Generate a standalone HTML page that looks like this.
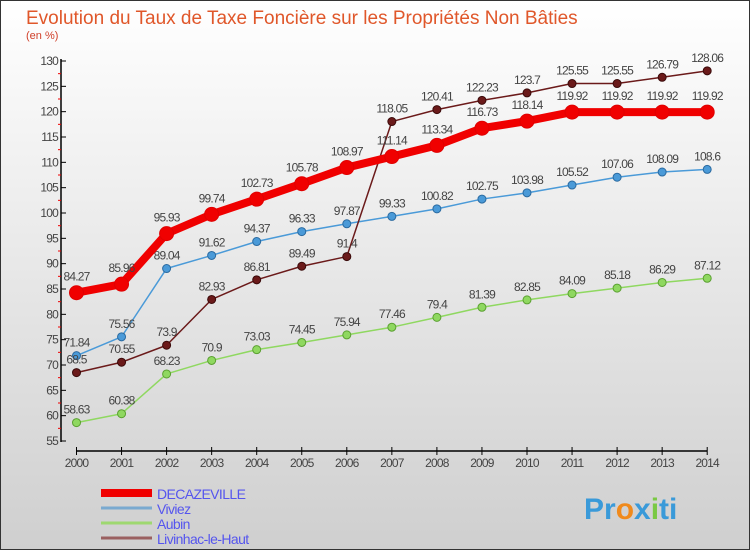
<!DOCTYPE html>
<html><head><meta charset="utf-8"><style>
body{margin:0}
#c{position:relative;width:748px;height:548px;border:1px solid #333;background:linear-gradient(#ffffff,#cfcfcf);overflow:hidden;font-family:"Liberation Sans",sans-serif}
</style></head><body>
<div id="c">
<svg id="s" width="748" height="548" style="position:absolute;left:0;top:0">
<text x="25" y="23" font-size="19" fill="#e0572a">Evolution du Taux de Taxe Foncière sur les Propriétés Non Bâties</text>
<text x="25" y="38" font-size="11" fill="#d0402a">(en %)</text>
<g id="g"></g>
<text x="583" y="518" font-size="30" font-weight="bold" fill="#3a9ad9">Pr<tspan fill="#f08a1c">o</tspan>x<tspan fill="#7ac943">i</tspan>ti</text>
</svg>
</div>
<script>
const years=[2000,2001,2002,2003,2004,2005,2006,2007,2008,2009,2010,2011,2012,2013,2014];
const deca=[84.27,85.96,95.93,99.74,102.73,105.78,108.97,111.14,113.34,116.73,118.14,119.92,119.92,119.92,119.92];
const viviez=[71.84,75.56,89.04,91.62,94.37,96.33,97.87,99.33,100.82,102.75,103.98,105.52,107.06,108.09,108.6];
const aubin=[58.63,60.38,68.23,70.9,73.03,74.45,75.94,77.46,79.4,81.39,82.85,84.09,85.18,86.29,87.12];
const livin=[68.5,70.55,73.9,82.93,86.81,89.49,91.4,118.05,120.41,122.23,123.7,125.55,125.55,126.79,128.06];
const yTicks=[55,60,65,70,75,80,85,90,95,100,105,110,115,120,125,130];
const NS="http://www.w3.org/2000/svg";
const g=document.getElementById('g');
const X=i=>75.5+i*45.05;
const Y=v=>440-(v-55)*380/75;
function mk(t,a,p){const e=document.createElementNS(NS,t);for(const k in a)e.setAttribute(k,a[k]);(p||g).appendChild(e);return e;}
// axes
let ya=mk('line',{x1:60,y1:58,x2:60,y2:441,stroke:'#000','stroke-width':1.5});


yTicks.forEach(v=>{
 mk('line',{x1:60,y1:Y(v),x2:65,y2:Y(v),stroke:'#000'});
 if(v<130)mk('line',{x1:57,y1:Y(v+2.5),x2:60,y2:Y(v+2.5),stroke:'#e00'});
 const t=mk('text',{x:57,y:Y(v)+4,'font-size':12,fill:'#444','text-anchor':'end','letter-spacing':'-0.8'});
 t.textContent=v;
 
 
});
let xa=mk('line',{x1:X(0),y1:450,x2:X(14),y2:450,stroke:'#000','stroke-width':1.5});


years.forEach((yr,i)=>{
 mk('line',{x1:X(i),y1:446,x2:X(i),y2:454,stroke:'#000'});
 const t=mk('text',{x:X(i),y:466,'font-size':12,fill:'#444','text-anchor':'middle','letter-spacing':'-0.8'});
 t.textContent=yr;
 
 
});
function series(d,col,dark,w,r,name){
 const pl=mk('polyline',{points:d.map((v,i)=>X(i)+','+Y(v)).join(' '),fill:'none',stroke:col,'stroke-width':w,'stroke-linejoin':'round'});
 
 
 d.forEach((v,i)=>{
  const c=mk('circle',{cx:X(i),cy:Y(v),r:r,fill:col,stroke:dark,'stroke-width':1});
  
  
  const t=mk('text',{x:X(i),y:Y(v)-(r+5),'font-size':12,fill:'#444','text-anchor':'middle','letter-spacing':'-0.8'});
  t.textContent=v;
  
  
 });
}
series(aubin,'#8fd860','#5aa030',1.5,4,'aubin');
series(viviez,'#4a9ad8','#2a6aa0',1.5,4,'viviez');
series(livin,'#6b1a1a','#3a0a0a',1.5,4,'livinhac');
series(deca,'#f00000','#e00000',8,7,'decazeville');
const leg=[['DECAZEVILLE','#f00000',8],['Viviez','#7aaad0',3],['Aubin','#9ed870',3],['Livinhac-le-Haut','#9a6060',3]];
leg.forEach((l,i)=>{
 const y=492+i*15;
 const ln=mk('line',{x1:100,y1:y,x2:151,y2:y,stroke:l[1],'stroke-width':l[2]});
 
 
 const t=mk('text',{x:156,y:y+6,'font-size':14,fill:'#5555ee','letter-spacing':'-0.6'});
 t.textContent=l[0];
 
 
});
</script>
</body></html>
